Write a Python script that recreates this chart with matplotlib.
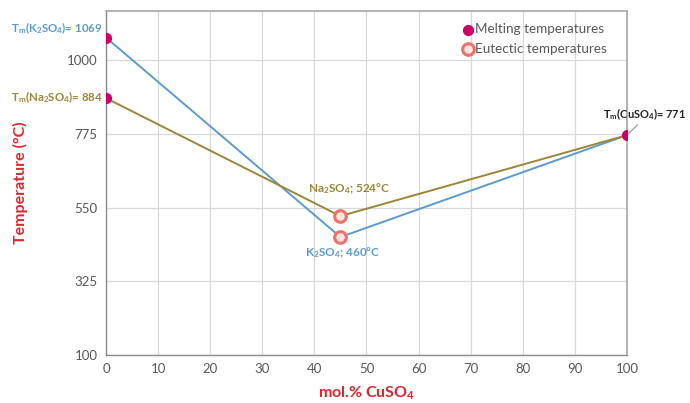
import matplotlib
matplotlib.use("Agg")
import matplotlib.pyplot as plt

plt.rcParams['font.family'] = ['Lato', 'DejaVu Sans']
plt.rcParams['mathtext.fontset'] = 'custom'
plt.rcParams['mathtext.rm'] = 'Lato:bold'
plt.rcParams['mathtext.bf'] = 'Lato:bold'
plt.rcParams['mathtext.it'] = 'Lato:bold'

# Composition (mol.% CuSO4) and temperatures (°C)
x_comp = [0, 45, 100]
k2so4_temp = [1069, 460, 771]
na2so4_temp = [884, 524, 771]

melt_x = [0, 0, 100]
melt_t = [1069, 884, 771]
eut_x = [45, 45]
eut_t = [524, 460]

x_ticks = list(range(0, 101, 10))
y_ticks = [100, 325, 550, 775, 1000]

blue = '#5B9BD5'
gold = '#9E8636'
magenta = '#CC0066'
salmon = '#F0706A'
red = '#E0262C'
grey_txt = '#595959'

fig = plt.figure(figsize=(6.9, 4.03), dpi=100)
ax = fig.add_axes([0.1536, 0.1191, 0.755, 0.8536])

ax.plot(x_comp, k2so4_temp, color=blue, lw=1.4, zorder=3)
ax.plot(x_comp, na2so4_temp, color=gold, lw=1.4, zorder=3)

ax.scatter(melt_x, melt_t, s=50, color=magenta, zorder=5, label='Melting temperatures')
ax.scatter(eut_x, eut_t, s=70, facecolor='#FDE6E4', edgecolor=salmon, linewidths=2.2,
           zorder=5, label='Eutectic temperatures')

ax.set_xlim(0, 100)
ax.set_ylim(100, 1150)
ax.set_xticks(x_ticks)
ax.set_yticks(y_ticks)
ax.tick_params(axis='both', length=0, labelsize=9.5, colors=grey_txt, pad=6)
ax.grid(True, color='#D9D9D9', lw=0.9)
ax.set_axisbelow(True)
for side in ['top', 'right']:
    ax.spines[side].set_color('#A6A6A6')
    ax.spines[side].set_linewidth(1.2)
for side in ['left', 'bottom']:
    ax.spines[side].set_color('#8C8C8C')
    ax.spines[side].set_linewidth(1.0)

ax.set_xlabel(r'mol.% CuSO$_\mathrm{4}$', color=red, fontsize=11.5, fontweight='bold', labelpad=7)
ax.set_ylabel('Temperature (°C)', color=red, fontsize=11.5, fontweight='bold', labelpad=28)

lab_kw = dict(textcoords='offset pixels', fontweight='bold', va='center')

# Point labels
ax.annotate(r'T$_\mathrm{m}$(K$_\mathrm{2}$SO$_\mathrm{4}$)= 1069', xy=(0, 1069), xytext=(-3, 9),
            ha='right', color=blue, fontsize=8.3, **lab_kw)
ax.annotate(r'T$_\mathrm{m}$(Na$_\mathrm{2}$SO$_\mathrm{4}$)= 884', xy=(0, 884), xytext=(-3, 1),
            ha='right', color=gold, fontsize=8.3, **lab_kw)
ax.annotate(r'Na$_\mathrm{2}$SO$_\mathrm{4}$; 524°C', xy=(45, 524), xytext=(9, 27),
            ha='center', color=gold, fontsize=8.5, **lab_kw)
ax.annotate(r'K$_\mathrm{2}$SO$_\mathrm{4}$; 460°C', xy=(45, 460), xytext=(2, -16),
            ha='center', color=blue, fontsize=8.5, **lab_kw)
ax.annotate(r'T$_\mathrm{m}$(CuSO$_\mathrm{4}$)= 771', xy=(100, 771), xytext=(-24, 21),
            ha='left', color='#262626', fontsize=8, annotation_clip=False,
            arrowprops=dict(arrowstyle='-', color='#A6A6A6', lw=1.0,
                            shrinkA=0, shrinkB=0, relpos=(0.45, 0.0)),
            **lab_kw)

leg = ax.legend(loc='upper right', frameon=False, fontsize=9.7, handletextpad=0.0,
                handlelength=1.0, borderaxespad=0.5, labelspacing=0.55,
                bbox_to_anchor=(0.985, 1.0))
for t in leg.get_texts():
    t.set_color(grey_txt)

fig.savefig('out.png', dpi=100)
